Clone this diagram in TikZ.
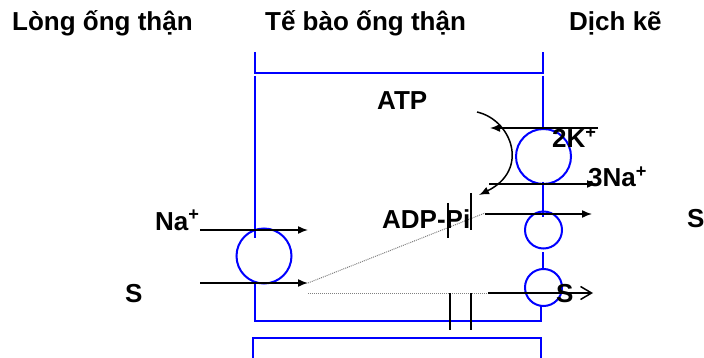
\documentclass[tikz,border=0pt]{standalone}
\usepackage{fontspec}
\setmainfont{Liberation Sans}
\usetikzlibrary{arrows.meta}
\begin{document}
\begin{tikzpicture}[x=1pt,y=-1pt,
  wall/.style={blue,line width=2pt},
  flow/.style={line width=1.5pt,-{Latex[length=10pt,width=8pt]}},
  lbl/.style={font=\fontsize{26}{28}\selectfont\bfseries,inner sep=0pt,anchor=base west},
  trail/.style={gray,densely dotted,line width=1pt}]
  \useasboundingbox (0,0) rectangle (704,358);
  \node[lbl](lumen) at (12,31) {Lòng ống thận};
  \node[lbl](cell) at (265,31) {Tế bào ống thận};
  \node[lbl](inter) at (569,31) {Dịch kẽ};
  \draw[wall](255,52) |- (543,73) -- (543,52);
  \draw[wall](255,76)--(255,238);
  \draw[wall](264,256) circle (27.5);
  \draw[wall](255,283)--(255,321)--(541,321)--(541,306);
  \draw[wall](253,358)--(253,338)--(541,338)--(541,358);
  \draw[wall](543,76)--(543,129);
  \draw[wall](543.5,156.5) circle (27.5);
  \draw[wall](543,182)--(543,217);
  \draw[wall](543.5,230) circle (18.5);
  \draw[wall](543,252)--(543,269);
  \draw[wall](543.5,287.5) circle (18.5);
  \draw[flow](200,230)--(308,230);
  \draw[flow](200,283)--(308,283);
  \draw[trail](308,283)--(485,213);
  \draw[trail](308,293)--(488,293);
  \draw[flow](485,214)--(592,214);
  \draw[line width=1.5pt,-{Straight Barb[length=11pt,width=13pt]}](488,293)--(593,293);
  \draw[line width=2pt](450,293)--(450,330);
  \draw[line width=2pt](471,293)--(471,330);
  \draw[line width=2pt](448,203)--(448,238);
  \draw[line width=2pt](471,193)--(471,230);
  \draw[flow](598,128)--(490,128);
  \draw[flow](489,184)--(597,184);
  \draw[flow](477,112) .. controls (512,120) and (530,170) .. (479,195);
  \node[lbl](atp) at (377,110) {ATP};
  \node[lbl](kion) at (552,148) {2K\textsuperscript{+}};
  \node[lbl](naout) at (588,187) {3Na\textsuperscript{+}};
  \node[lbl](nain) at (155,230) {Na\textsuperscript{+}};
  \node[lbl](sin) at (125,302) {S};
  \node[lbl](adp) at (382,229) {ADP-Pi};
  \node[lbl](smid) at (556,302) {S};
  \node[lbl](sout) at (687,228) {S};
\end{tikzpicture}
\end{document}
